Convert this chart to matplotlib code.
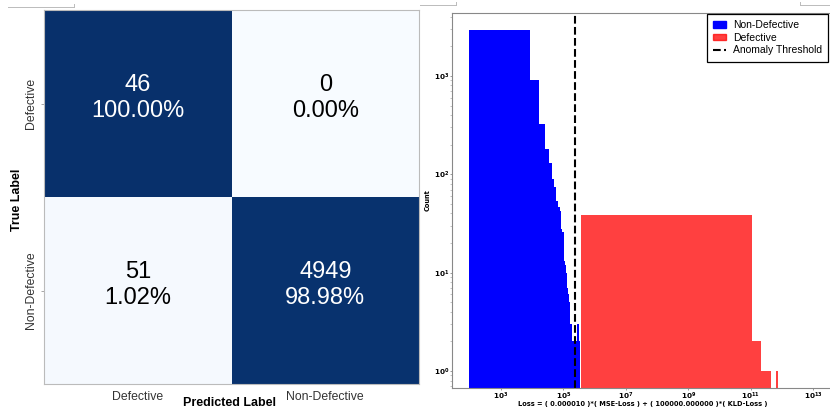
import numpy as np
import matplotlib
matplotlib.use("Agg")
import matplotlib.pyplot as plt
from matplotlib.patches import Patch
from matplotlib.lines import Line2D

# ---------------- confusion matrix data ----------------
class_names = ["Defective", "Non-Defective"]
cm_counts = np.array([[46, 0],
                      [51, 4949]])
cm_percent = np.array([[100.00, 0.00],
                       [1.02, 98.98]])

# ---------------- loss histogram data ----------------
# linear bins, 100 per class
blue_min, blue_width = 94.0, 8400.0
blue_counts = ([2950, 920, 325, 181, 131, 89, 75, 53, 46, 42, 28, 26,
                13, 12, 10, 9, 7, 6, 5, 4, 3, 3, 3, 2, 2, 2, 2,
                3, 2, 2, 3, 2, 2, 3, 2, 17, 3, 2, 3, 2, 3]
               + [0] * 58 + [1])
red_min, red_width = 3.66e5, 1.11e11
red_counts = ([39, 2, 1, 1, 0, 0, 1] + [0] * 36 + [1] + [0] * 55 + [1])
threshold = 2.35e5

blue_edges = blue_min + blue_width * np.arange(len(blue_counts) + 1)
red_edges = red_min + red_width * np.arange(len(red_counts) + 1)

W, H = 830, 408
fig = plt.figure(figsize=(W / 100, H / 100), dpi=100)

# ================= left: confusion matrix =================
ax1 = fig.add_axes([44 / W, 24 / H, 375 / W, 374 / H])
ax1.imshow(cm_percent, cmap="Blues", vmin=0, vmax=100, aspect="auto",
           interpolation="nearest")
sans = "Liberation Sans"
for i in range(2):
    for j in range(2):
        col = "white" if cm_percent[i, j] > 50 else "black"
        ax1.text(j, i - 0.03, f"{cm_counts[i, j]}\n{cm_percent[i, j]:.2f}%",
                 ha="center", va="center", color=col, fontsize=17,
                 family=sans, linespacing=1.25)
ax1.set_xticks([0, 1])
ax1.set_yticks([0, 1])
ax1.set_xticklabels(class_names, family=sans, fontsize=8.8, color="#333333")
ax1.set_yticklabels(class_names, family=sans, fontsize=8.8, color="#333333",
                    rotation=90, va="center")
ax1.tick_params(axis="y", length=2, width=0.6, color="#999999", pad=3)
ax1.tick_params(axis="x", length=0, pad=5)
for s in ax1.spines.values():
    s.set_color("#bbbbbb")
    s.set_linewidth(0.8)
fig.text(229 / W, 1 - 403 / H, "Predicted Label", ha="center", va="center",
         family=sans, fontsize=9, fontweight="bold")
fig.text(17 / W, 1 - 200 / H, "True Label", ha="center", va="center",
         rotation=90, family=sans, fontsize=9, fontweight="bold")

# ================= right: loss histogram =================
ax_l, ax_b, ax_w, ax_h = 452, 388, 381, 375
ax2 = fig.add_axes([ax_l / W, (H - ax_b) / H, ax_w / W, ax_h / H])
ax2.hist(blue_edges[:-1], bins=blue_edges, weights=blue_counts,
         color="#0000ff", log=True, label="Non-Defective")
ax2.hist(red_edges[:-1], bins=red_edges, weights=red_counts,
         color="#ff0000", alpha=0.75, log=True, label="Defective")
ax2.axvline(threshold, color="black", linestyle="--", linewidth=1.5,
            label="Anomaly Threshold")
ax2.set_xscale("log")
ax2.set_yscale("log")
ax2.set_xlim(10 ** 1.43, 10 ** 13.64)
ax2.set_ylim(10 ** -0.173, 10 ** 3.64)
ax2.set_xticks([10.0 ** k for k in range(3, 14, 2)])
ax2.xaxis.set_minor_locator(matplotlib.ticker.NullLocator())
ax2.tick_params(axis="both", which="major", labelsize=5.2, length=1.6,
                width=0.6, color="#888888", pad=0.6)
ax2.tick_params(axis="y", which="minor", length=1.2, width=0.5,
                color="#aaaaaa")
for lbl in ax2.get_xticklabels() + ax2.get_yticklabels():
    lbl.set_fontweight("bold")
ax2.set_ylabel("Count", fontsize=4.8, fontweight="bold")
ax2.yaxis.set_label_coords((431 - ax_l) / ax_w, 0.5)
ax2.set_xlabel("Loss = ( 0.000010 )*( MSE-Loss ) + "
               "( 100000.000000 )*( KLD-Loss )",
               fontsize=4.8, fontweight="bold")
ax2.xaxis.set_label_coords(0.5, -(401 - ax_b) / ax_h)
for s in ax2.spines.values():
    s.set_color("#888888")
    s.set_linewidth(0.8)

handles = [Patch(color="#0000ff"),
           Patch(color="#ff0000", alpha=0.75),
           Line2D([], [], color="black", linestyle="--", linewidth=1.5)]
leg = ax2.legend(handles, ["Non-Defective", "Defective", "Anomaly Threshold"],
                 loc="upper right", bbox_to_anchor=(828 / W, 1 - 14 / H),
                 bbox_transform=fig.transFigure, borderaxespad=0,
                 prop={"family": sans, "size": 7.5}, fancybox=False,
                 framealpha=1, edgecolor="black", handlelength=1.3,
                 handleheight=0.55, handletextpad=0.6, labelspacing=0.25,
                 borderpad=0.6)
leg.get_frame().set_linewidth(0.9)

# faint frame remnants along the top edge
for (x0, x1, y, tick_x) in [(8, 74, 7, 74), (420, 456, 5, 456), (800, 830, 5, 800)]:
    fig.add_artist(Line2D([x0 / W, x1 / W], [1 - y / H, 1 - y / H],
                          color="#bbbbbb", linewidth=0.7))
    fig.add_artist(Line2D([tick_x / W, tick_x / W],
                          [1 - y / H, 1 - (y - 3) / H],
                          color="#bbbbbb", linewidth=0.7))

fig.savefig("out.png", dpi=100)
